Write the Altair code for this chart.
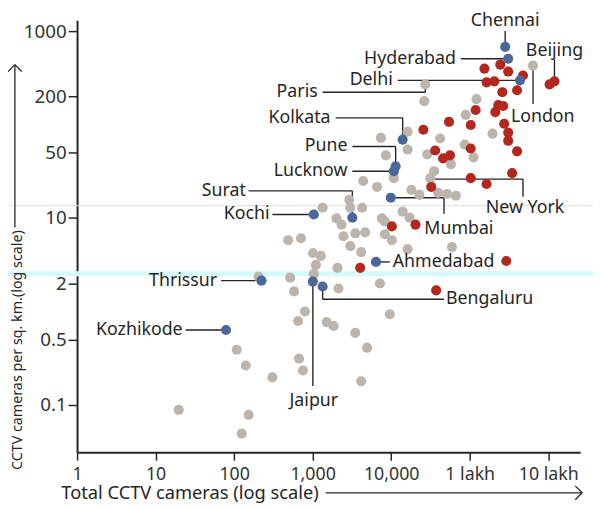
import altair as alt
import pandas as pd

# ---------------- data ----------------
gray_cameras = [640000, 27200, 26400, 122000, 89000, 195000, 16200, 7400, 16200, 42000,
                86500, 28800, 57700, 112000, 8550, 10800, 4400, 6600, 35300, 31400,
                18100, 22900, 39600, 51400, 66700, 4270, 2930, 3020, 1340, 2010,
                2330, 14000, 17100, 7620, 8310, 711, 488, 2470, 3490, 4660,
                8310, 10200, 3020, 4150, 16200, 59400, 1010, 1270, 1100, 2070,
                1035, 205, 517, 7190, 2130, 580, 798, 652, 1510, 1850,
                9600, 3490, 4940, 671, 753, 4150, 108, 141, 307, 19.7,
                153, 125]
gray_density = [427, 269, 178, 187, 127, 80, 84, 72, 54, 71,
                61, 48, 37.6, 44.6, 46.8, 26.7, 24.9, 21.5, 31.7, 26.7,
                20.0, 17.7, 18.6, 18.1, 17.3, 12.9, 15.7, 12.9, 12.9, 9.9,
                8.5, 11.7, 10.1, 9.9, 9.2, 6.08, 5.79, 6.38, 6.86, 7.03,
                6.70, 5.79, 5.00, 4.32, 4.65, 4.89, 4.22, 3.93, 3.15, 2.93,
                2.53, 2.36, 2.30, 1.99, 1.76, 1.64, 1.0, 0.79, 0.77, 0.70,
                0.935, 0.59, 0.41, 0.313, 0.234, 0.179, 0.39, 0.264, 0.197, 0.0886,
                0.0784, 0.0494]

global_cameras = [154000, 245000, 309000, 477000, 164000, 206000, 401000, 260000, 231000, 267000,
                  212000, 119000, 54500, 103000, 275000, 309000, 309000, 25700, 36300, 45800,
                  56100, 103000, 401000, 347000, 103000, 164000, 32400, 10200, 20400, 4030,
                  292000, 37400, 1040000, 1200000]
global_density = [397, 438, 369, 335, 283, 290, 233, 222, 162, 158,
                  136, 143, 107, 99, 102, 82, 67, 88, 52.8, 43.5,
                  46.8, 55.5, 51.6, 30.2, 26.7, 23.1, 21.5, 8.13, 8.5, 2.93,
                  3.47, 1.68, 269, 290]

india_cities = ["Chennai", "Hyderabad", "Delhi", "Kolkata", "Pune", "Lucknow", "Mumbai",
                "Surat", "Kochi", "Thrissur", "Kozhikode", "Jaipur", "Bengaluru", "Ahmedabad"]
india_cameras = [283000, 309000, 437000, 14000, 11400, 10800, 9890, 3200, 1035, 223, 78.9, 1006, 1340, 6410]
india_density = [678, 506, 297, 69, 35.8, 31.7, 16.5, 10.1, 10.9, 2.14, 0.634, 2.09, 1.85, 3.39]

x_tick_values = [1, 10, 100, 1000, 10000, 100000, 1000000]
x_tick_labels = ["1", "10", "100", "1,000", "10,000", "1 lakh", "10 lakh"]
y_tick_values = [0.1, 0.5, 2, 10, 50, 200, 1000]

# annotation labels (anchor in data units)
label_text = ["Chennai", "Hyderabad", "Delhi", "Paris", "Kolkata", "Pune", "Lucknow", "Surat",
              "Kochi", "Mumbai", "New York", "London", "Beijing", "Ahmedabad", "Bengaluru",
              "Jaipur", "Thrissur", "Kozhikode"]
label_x = [283000, 66700, 10470, 1160, 1690, 2770, 2770, 141, 282, 72800, 506000, 851000,
           1200000, 10470, 49900, 1035, 60.8, 22.1]
label_y = [1270, 506, 297, 222, 118, 58.2, 31.7, 19.5, 10.9, 7.57, 12.9, 121, 615, 3.39,
           1.35, 0.110, 2.14, 0.634]
label_align = ["center", "right", "right", "right", "right", "right", "right", "right", "right",
               "center", "center", "center", "center", "left", "left", "center", "right", "right"]

# leader-line segments (data units)
seg_x1 = [283000, 77100, 12100, 1340, 27200, 1960, 14000, 3200, 11400, 3200, 153, 3200, 307,
          9890, 47100, 31400, 477000, 640000, 1200000, 6410, 1340, 1340, 1006, 68.3, 24.1]
seg_y1 = [1000, 506, 297, 222, 222, 118, 118, 58.2, 58.2, 31.7, 19.5, 19.5, 10.9,
          16.5, 16.5, 26.1, 26.1, 427, 494, 3.39, 1.85, 1.35, 2.09, 2.14, 0.634]
seg_x2 = [283000, 309000, 437000, 27200, 27200, 14000, 14000, 11400, 11400, 10800, 3200, 3200, 1035,
          47100, 47100, 477000, 477000, 640000, 1200000, 9600, 1340, 47100, 1006, 223, 78.9]
seg_y2 = [678, 506, 297, 222, 269, 118, 69, 58.2, 35.8, 31.7, 19.5, 10.1, 10.9,
          16.5, 11.1, 26.1, 16.9, 166, 290, 3.39, 1.35, 1.35, 0.159, 2.14, 0.634]

groups = ["Other cities", "Global", "India"]
group_colors = ["#bcb5ae", "#b3281e", "#4a6899"]

# ---------------- tables ----------------
points = pd.DataFrame({
    "cameras": gray_cameras + global_cameras + india_cameras,
    "density": gray_density + global_density + india_density,
    "group": [groups[0]] * len(gray_cameras) + [groups[1]] * len(global_cameras)
             + [groups[2]] * len(india_cameras),
    "layer": [0] * len(gray_cameras) + [1] * len(global_cameras) + [2] * len(india_cameras),
})
labels = pd.DataFrame({"label": label_text, "x": label_x, "y": label_y, "align": label_align})
segs = pd.DataFrame({"x1": seg_x1, "y1": seg_y1, "x2": seg_x2, "y2": seg_y2})
one = pd.DataFrame({"k": [0]})

FONT = "Noto Sans"
INK = "#262626"
LAB = "#333333"

x_scale = alt.Scale(type="log", domain=[1, 2550000], nice=False)
y_scale = alt.Scale(type="log", domain=[0.0311, 1306], nice=False)

label_expr = "[" + ",".join("'%s'" % t for t in x_tick_labels) + "][round(log(datum.value) / LN10)]"

x_axis = alt.Axis(values=x_tick_values, labelExpr=label_expr, title=None, grid=False,
                  domainColor=INK, domainWidth=2, tickColor=INK, tickWidth=1.5, tickSize=8,
                  labelFontSize=18, labelFont=FONT, labelColor=LAB, labelPadding=6,
                  labelOverlap=False, labelFlush=False)
y_axis = alt.Axis(values=y_tick_values, format="~g", title=None, grid=False,
                  domainColor=INK, domainWidth=2, tickColor=INK, tickWidth=1.5, tickSize=9,
                  labelFontSize=19, labelFont=FONT, labelColor=LAB, labelPadding=2,
                  labelOverlap=False, labelFlush=False)


def deco_rule(x1, y1, x2, y2, color, width):
    return alt.Chart(one).mark_rule(color=color, strokeWidth=width).encode(
        x=alt.value(x1), x2=alt.value(x2), y=alt.value(y1), y2=alt.value(y2))


layers = [
    deco_rule(-70, 188, 523, 188, "#dddddd", 1),
    deco_rule(-70, 257, 523, 257, "#d6f9fc", 5),
]

layers.append(
    alt.Chart(segs).mark_rule(color=INK, strokeWidth=1.4).encode(
        x=alt.X("x1:Q", scale=x_scale, axis=x_axis),
        y=alt.Y("y1:Q", scale=y_scale, axis=y_axis),
        x2="x2:Q", y2="y2:Q")
)

layers.append(
    alt.Chart(points).mark_circle(size=105, opacity=1).encode(
        x=alt.X("cameras:Q", scale=x_scale, axis=x_axis),
        y=alt.Y("density:Q", scale=y_scale, axis=y_axis),
        color=alt.Color("group:N", scale=alt.Scale(domain=groups, range=group_colors), legend=None),
        order=alt.Order("layer:Q"))
)

for a in ["left", "center", "right"]:
    layers.append(
        alt.Chart(labels).transform_filter(alt.datum.align == a).mark_text(
            align=a, baseline="middle", font=FONT, fontSize=18, color=INK).encode(
            x=alt.X("x:Q", scale=x_scale, axis=x_axis),
            y=alt.Y("y:Q", scale=y_scale, axis=y_axis),
            text="label:N")
    )

# axis titles with arrows
layers.append(
    alt.Chart(one).mark_text(text="Total CCTV cameras (log scale)", align="left",
                             baseline="alphabetic", font=FONT, fontSize=18.5, color=INK).encode(
        x=alt.value(-16), y=alt.value(485))
)
layers += [
    deco_rule(252, 479, 512, 479, INK, 1.3),
    deco_rule(505, 472, 512, 479, INK, 1.3),
    deco_rule(505, 486, 512, 479, INK, 1.3),
]
layers.append(
    alt.Chart(one).mark_text(text="CCTV cameras per sq. km.(log scale)", align="left", angle=270,
                             baseline="alphabetic", font=FONT, fontSize=14.5, color=INK).encode(
        x=alt.value(-56), y=alt.value(456))
)
layers += [
    deco_rule(-63, 210, -63, 45, INK, 1.3),
    deco_rule(-70, 52, -63, 45, INK, 1.3),
    deco_rule(-56, 52, -63, 45, INK, 1.3),
]

chart = alt.layer(*layers).properties(
    width=510, height=438,
    padding={"left": 70, "top": 9, "right": 13, "bottom": 54},
    autosize=alt.AutoSizeParams(type="none"),
).configure_view(stroke=None)

chart.save("out.html", embed_options={"renderer": "svg", "actions": False})
